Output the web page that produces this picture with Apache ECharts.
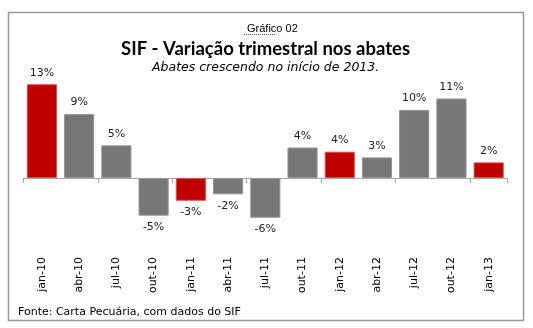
<!DOCTYPE html>
<html>
<head>
<meta charset="utf-8">
<script src="https://cdn.jsdelivr.net/npm/echarts@6/dist/echarts.min.js"></script>
<style>html,body{margin:0;padding:0;background:#fff;}#c{width:533px;height:328px;}</style>
</head>
<body>
<div id="c"></div>
<script>
var categories = ['jan-10','abr-10','jul-10','out-10','jan-11','abr-11','jul-11','out-11','jan-12','abr-12','jul-12','out-12','jan-13'];
var values = [13.2, 9.0, 4.6, -5.3, -3.2, -2.3, -5.6, 4.3, 3.7, 2.9, 9.6, 11.2, 2.2];
var highlighted = ['jan-10','jan-11','jan-12','jan-13'];
var titleText = 'SIF - Variação trimestral nos abates';
var subtitleText = 'Abates crescendo no início de 2013.';
var headerText = 'Gráfico 02';
var sourceText = 'Fonte: Carta Pecuária, com dados do SIF';

var RED = '#C00000', GRAY = '#777777';
var FONT = 'DejaVu Sans';

var data = values.map(function (v, i) {
  var hi = highlighted.indexOf(categories[i]) >= 0;
  return {
    value: v,
    itemStyle: { color: hi ? RED : GRAY, borderColor: hi ? '#d65050' : '#959595', borderWidth: 1 },
    label: { position: v >= 0 ? 'top' : 'bottom' }
  };
});

var chart = echarts.init(document.getElementById('c'), null, { renderer: 'canvas' });
chart.setOption({
  backgroundColor: '#fff',
  animation: false,
  title: [
    { text: headerText, left: 242, top: 18,
      textStyle: { fontFamily: 'Liberation Sans', fontSize: 11, fontWeight: 'normal', color: '#000' } },
    { text: titleText, left: 116, top: 35,
      textStyle: { fontFamily: 'Lato', fontSize: 18.5, fontWeight: 'bold', color: '#000' } },
    { text: subtitleText, left: 147, top: 56,
      textStyle: { fontFamily: FONT, fontSize: 12.5, fontStyle: 'italic', fontWeight: 'normal', color: '#000' } },
    { text: sourceText, left: 13, top: 302,
      textStyle: { fontFamily: FONT, fontSize: 11, fontWeight: 'normal', color: '#000' } }
  ],
  graphic: [
    { type: 'rect', shape: { x: 8.5, y: 12.5, width: 515, height: 308 }, style: { fill: 'none', stroke: '#9a9a9a', lineWidth: 1.5 }, z: 0 },
    { type: 'line', shape: { x1: 244, y1: 34.5, x2: 275, y2: 34.5 }, style: { stroke: '#e03030', lineWidth: 1, lineDash: [1, 1] } }
  ],
  grid: { left: 23.3, width: 484, top: 78.6, height: 177.5, containLabel: false },
  xAxis: [
    { type: 'category', data: categories, position: 'bottom',
      axisLine: { onZero: true, lineStyle: { color: '#a6a6a6', width: 1 } },
      axisTick: { show: true, length: 5, lineStyle: { color: '#a6a6a6' } },
      axisLabel: { show: false }, splitLine: { show: false } },
    { type: 'category', data: categories, position: 'bottom',
      axisLine: { show: false, onZero: false }, axisTick: { show: false },
      axisLabel: { rotate: 90, margin: 1, fontFamily: FONT, fontSize: 11, color: '#000' } }
  ],
  yAxis: { type: 'value', min: -11, max: 14, show: false, splitLine: { show: false } },
  series: [{
    type: 'bar', xAxisIndex: 0, data: data, barCategoryGap: '19%',
    label: { show: true, distance: 6, fontFamily: FONT, fontSize: 11, color: '#222',
      formatter: function (p) { return Math.round(p.value) + '%'; } }
  }]
});
</script>
</body>
</html>
